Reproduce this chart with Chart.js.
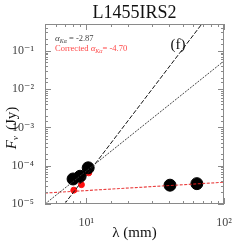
<!DOCTYPE html>
<html>
<head>
<meta charset="utf-8">
<script src="https://cdn.jsdelivr.net/npm/chart.js@4.4.1/dist/chart.umd.min.js"></script>
<style>
  html, body { margin: 0; padding: 0; background: #fff; }
  #wrap { width: 249px; height: 249px; position: relative; }
</style>
</head>
<body>
<div id="wrap"><canvas id="chart" width="249" height="249"></canvas></div>
<script>
// measured points (black) and corrected points (red)
var wavelengths = [8.0, 9.0, 10.3, 40.5, 63.5];
var fluxes = [4.5e-5, 5.3e-5, 8.8e-5, 3.1e-5, 3.4e-5];
var corrWavelengths = [8.1, 9.2, 10.4];
var corrFluxes = [2.3e-5, 3.2e-5, 6.5e-5];

// fitted lines at their ends
var fitX = [5, 100];
var fitY = [1.0e-5, 0.054];
var corrFitX = [6.93, 69];
var corrFitY = [1.0e-5, 0.5];
var freeX = [5, 100];
var freeY = [1.93e-5, 3.7e-5];

var xTicks = [10, 100];
var yTicks = [1e-5, 1e-4, 1e-3, 1e-2, 1e-1];

var serif = '"Liberation Serif", "DejaVu Serif", serif';
var sup = { '-': '\u207b', '0': '\u2070', '1': '\u00b9', '2': '\u00b2', '3': '\u00b3', '4': '\u2074', '5': '\u2075' };

function pow10Label(v) {
    var e = Math.round(Math.log10(v));
    var s = String(e).split('').map(function (c) { return sup[c]; }).join('');
    return '10' + s;
}
function isMajor(v, list) {
    for (var i = 0; i < list.length; i++) {
        if (Math.abs(v - list[i]) / list[i] < 1e-6) return true;
    }
    return false;
}
function pts(xs, ys) {
    return xs.map(function (x, i) { return { x: x, y: ys[i] }; });
}

var tickPlugin = {
    id: 'inTicks',
    afterDraw: function (chart) {
        var c = chart.ctx, a = chart.chartArea;
        var xs = chart.scales.x, ys = chart.scales.y;
        c.save();
        c.strokeStyle = '#8a8a8a';
        c.lineWidth = 1;
        c.strokeRect(a.left + 0.5, a.top + 0.5, a.right - a.left - 1, a.bottom - a.top - 1);
        c.beginPath();
        xs.ticks.forEach(function (t) {
            var p = Math.round(xs.getPixelForValue(t.value)) + 0.5;
            var len = isMajor(t.value, xTicks) ? 6 : 3;
            c.moveTo(p, a.bottom); c.lineTo(p, a.bottom - len);
            c.moveTo(p, a.top); c.lineTo(p, a.top + len);
        });
        ys.ticks.forEach(function (t) {
            var p = Math.round(ys.getPixelForValue(t.value)) + 0.5;
            var len = isMajor(t.value, yTicks) ? 6 : 3;
            c.moveTo(a.left, p); c.lineTo(a.left + len, p);
            c.moveTo(a.right, p); c.lineTo(a.right - len, p);
        });
        c.stroke();

        // title
        c.fillStyle = '#111';
        c.textAlign = 'center';
        c.textBaseline = 'middle';
        c.font = '18px ' + serif;
        c.fillText('L1455IRS2', (a.left + a.right) / 2, 13);

        // axis titles
        c.font = '15px ' + serif;
        c.fillText('\u03bb (mm)', (a.left + a.right) / 2, 233);
        c.save();
        c.translate(12, 122);
        c.rotate(-Math.PI / 2);
        c.font = 'italic 15px ' + serif;
        c.textAlign = 'right';
        c.fillText('F', -18, 0);
        c.font = 'italic 9px ' + serif;
        c.textAlign = 'left';
        c.fillText('\u03bd', -18, 4);
        c.font = '15px ' + serif;
        c.fillText('(Jy)', -8, 0);
        c.restore();

        // panel tag
        c.font = '15px ' + serif;
        c.fillText('(f)', 178, 45);

        // alpha notes
        c.textAlign = 'left';
        function note(y, pre, post, col) {
            var x = 55;
            c.fillStyle = col;
            c.font = '8.5px ' + serif;
            c.fillText(pre, x, y); x += c.measureText(pre).width;
            c.font = 'italic 9px ' + serif;
            c.fillText('\u03b1', x, y); x += c.measureText('\u03b1').width;
            c.font = 'italic 6px ' + serif;
            c.fillText('K\u03b1', x, y + 2.5); x += c.measureText('K\u03b1').width;
            c.font = '8.5px ' + serif;
            c.fillText(post, x, y);
        }
        note(39, '', ' = -2.87', '#444');
        note(48.5, 'Corrected ', '= -4.70', '#ff4545');
        c.restore();
    }
};

var ctx = document.getElementById('chart').getContext('2d');
var chart = new Chart(ctx, {
    type: 'scatter',
    data: {
        datasets: [{
            type: 'line',
            data: pts(fitX, fitY),
            borderColor: '#333',
            borderWidth: 0.9,
            borderDash: [2, 1.2],
            pointRadius: 0,
            fill: false
        }, {
            type: 'line',
            data: pts(corrFitX, corrFitY),
            borderColor: '#111',
            borderWidth: 1,
            borderDash: [4.5, 1.8],
            pointRadius: 0,
            fill: false
        }, {
            type: 'line',
            data: pts(freeX, freeY),
            borderColor: 'rgba(230, 30, 30, 0.85)',
            borderWidth: 1.1,
            borderDash: [3, 1.5],
            pointRadius: 0,
            fill: false
        }, {
            data: pts(wavelengths, fluxes),
            backgroundColor: '#000',
            borderColor: '#000',
            pointRadius: 6,
            pointHoverRadius: 6
        }, {
            data: pts(corrWavelengths, corrFluxes),
            backgroundColor: '#ff1010',
            borderColor: '#ff1010',
            pointRadius: 3,
            pointHoverRadius: 3
        }]
    },
    options: {
        responsive: false,
        animation: false,
        events: [],
        layout: { padding: { left: 0, right: 25, top: 24, bottom: 0 } },
        plugins: { legend: { display: false }, tooltip: { enabled: false } },
        scales: {
            x: {
                type: 'logarithmic',
                min: 5,
                max: 100,
                grid: { display: false },
                border: { display: false },
                afterFit: function (s) { s.height = 45; },
                ticks: {
                    autoSkip: false,
                    maxRotation: 0,
                    padding: 4,
                    color: '#444',
                    font: { family: serif, size: 12 },
                    callback: function (v) { return isMajor(v, xTicks) ? pow10Label(v) : ''; }
                }
            },
            y: {
                type: 'logarithmic',
                min: 1e-5,
                max: 0.5,
                grid: { display: false },
                border: { display: false },
                afterFit: function (s) { s.width = 45; },
                ticks: {
                    autoSkip: false,
                    padding: 3,
                    color: '#444',
                    font: { family: serif, size: 12 },
                    callback: function (v) { return isMajor(v, yTicks) ? pow10Label(v) : ''; }
                }
            }
        }
    },
    plugins: [tickPlugin]
});
</script>
</body>
</html>
